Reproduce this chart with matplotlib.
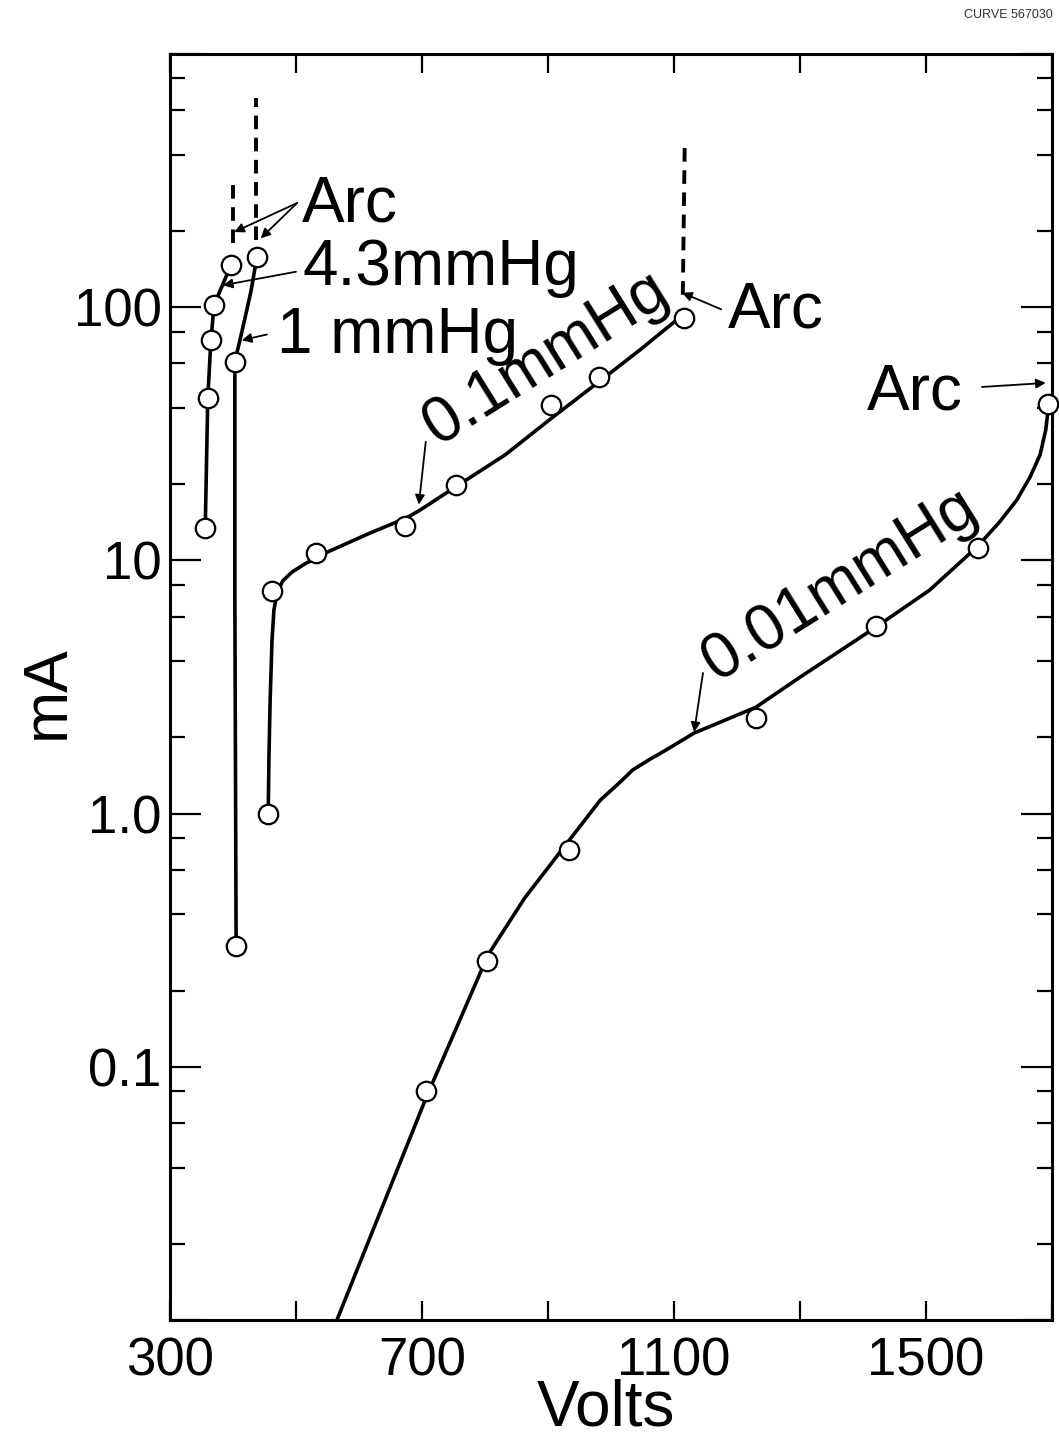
import matplotlib.pyplot as plt
from matplotlib.ticker import FixedLocator, FixedFormatter, NullFormatter

# 4.3 mmHg
p43_v = [356, 360, 365, 370, 397]
p43_ma = [13.4, 43.8, 74, 102, 147]
arc43_v = [400, 400]
arc43_ma = [180, 310]

# 1 mmHg
p1_v = [405, 403, 438]
p1_ma = [0.30, 61, 158]
c1_v = [405, 403, 403, 411, 421, 429, 438]
c1_ma = [0.30, 7.0, 61, 74, 95, 117, 158]
arc1_v = [436, 436]
arc1_ma = [184, 670]

# 0.1 mmHg
p01_v = [456, 462, 532, 673, 754, 905, 981, 1116]
p01_ma = [1.0, 7.6, 10.7, 13.7, 19.9, 41, 53, 91]
c01_v = [456, 457, 459, 462, 465, 470, 479, 494, 514, 554, 617, 675, 697, 756, 832, 906, 983, 1046, 1116]
c01_ma = [1.01, 1.63, 2.81, 4.85, 6.37, 7.43, 8.30, 9.00, 9.68, 10.9, 12.8, 14.7, 15.8, 19.7, 26.1, 36.5, 51.2, 67.8, 94.0]
arc01_v = [1114, 1117]
arc01_ma = [112, 437]

# 0.01 mmHg
p001_v = [706, 803, 933, 1230, 1421, 1583, 1694]
p001_ma = [0.080, 0.262, 0.72, 2.39, 5.5, 11.2, 41.5]
c001_v = [565, 708, 805, 863, 924, 983, 1010, 1035, 1062, 1087, 1132, 1230, 1298, 1421,
          1506, 1581, 1617, 1644, 1665, 1681, 1690, 1695]
c001_ma = [0.01, 0.077, 0.277, 0.464, 0.73, 1.13, 1.30, 1.49, 1.64, 1.78, 2.08, 2.63, 3.43, 5.46,
           7.64, 11.3, 14.2, 17.3, 21.3, 26.1, 32.7, 41.5]

xticks = [300, 500, 700, 900, 1100, 1300, 1500, 1700]
xlabels = ['300', '', '700', '', '1100', '', '1500', '']
yticks = [0.01, 0.1, 1, 10, 100, 1000]
ylabels = ['', '0.1', '1.0', '10', '100', '']

plt.rcParams['font.family'] = ['Liberation Sans', 'DejaVu Sans']

fig = plt.figure(figsize=(10.59, 14.42), dpi=100)
ax = fig.add_axes([0.1605, 0.0846, 0.8329, 0.878])
ax.set_yscale('log')
ax.set_xlim(300, 1700)
ax.set_ylim(0.01, 1000)

lw = 2.6
mk = dict(marker='o', ms=14, mfc='white', mec='black', mew=1.6, ls='none', zorder=5, clip_on=False)
dash = dict(color='black', lw=2.8, dashes=(3.5, 2.2))

ax.plot(p43_v, p43_ma, color='black', lw=lw)
ax.plot(p43_v, p43_ma, **mk)
ax.plot(arc43_v, arc43_ma, **dash)

ax.plot(c1_v, c1_ma, color='black', lw=lw)
ax.plot(p1_v, p1_ma, **mk)
ax.plot(arc1_v, arc1_ma, **dash)

ax.plot(c01_v, c01_ma, color='black', lw=lw)
ax.plot(p01_v, p01_ma, **mk)
ax.plot(arc01_v, arc01_ma, **dash)

ax.plot(c001_v, c001_ma, color='black', lw=lw)
ax.plot(p001_v, p001_ma, **mk)

arr = dict(arrowstyle='-|>', color='black', lw=1.3, mutation_scale=14, shrinkA=0, shrinkB=0)
tfs = 46

ax.text(510, 217, 'Arc', fontsize=tfs, ha='left', va='baseline')
ax.annotate('', xy=(402, 198), xytext=(502, 258), arrowprops=arr)
ax.annotate('', xy=(444, 187), xytext=(502, 258), arrowprops=arr)

ax.text(511, 122, '4.3mmHg', fontsize=tfs, ha='left', va='baseline')
ax.annotate('', xy=(384, 122), xytext=(500, 138), arrowprops=arr)

ax.text(470, 65.9, '1 mmHg', fontsize=tfs, ha='left', va='baseline')
ax.annotate('', xy=(414, 74), xytext=(454, 78), arrowprops=arr)

ax.text(1186, 82.8, 'Arc', fontsize=tfs, ha='left', va='baseline')
ax.annotate('', xy=(1113, 114), xytext=(1175, 98), arrowprops=arr)

ax.text(1406, 39.3, 'Arc', fontsize=tfs, ha='left', va='baseline')
ax.annotate('', xy=(1690, 50.2), xytext=(1589, 48.4), arrowprops=arr)

ax.text(725, 28.3, '0.1mmHg', fontsize=tfs, ha='left', va='baseline',
        rotation=32, rotation_mode='anchor')
ax.annotate('', xy=(695, 16.6), xytext=(706, 29.4), arrowprops=arr)

ax.text(1168, 3.31, '0.01mmHg', fontsize=tfs, ha='left', va='baseline',
        rotation=32, rotation_mode='anchor')
ax.annotate('', xy=(1132, 2.10), xytext=(1146, 3.59), arrowprops=arr)

ax.xaxis.set_major_locator(FixedLocator(xticks))
ax.xaxis.set_major_formatter(FixedFormatter(xlabels))
ax.yaxis.set_major_locator(FixedLocator(yticks))
ax.yaxis.set_major_formatter(FixedFormatter(ylabels))
ax.yaxis.set_minor_locator(FixedLocator([m * 10.0 ** e for e in range(-2, 3) for m in (2, 4, 6, 8)]))
ax.yaxis.set_minor_formatter(NullFormatter())
ax.xaxis.set_minor_locator(FixedLocator([]))

ax.tick_params(which='both', direction='in', top=True, right=True, width=1.6, labelsize=38)
ax.tick_params(axis='x', which='major', length=14, pad=12)
ax.tick_params(axis='y', which='major', length=22, pad=6)
ax.tick_params(axis='y', which='minor', length=11)
for s in ax.spines.values():
    s.set_linewidth(2.2)

fig.text(47 / 1059, 1 - 692 / 1442, 'mA', fontsize=45, rotation=90, ha='center', va='center')
fig.text(606 / 1059, 1 - 1426 / 1442, 'Volts', fontsize=46, ha='center', va='baseline')
fig.text(0.994, 0.994, 'CURVE 567030', fontsize=9, ha='right', va='top', color='#333333')

fig.savefig('out.png', dpi=100)
